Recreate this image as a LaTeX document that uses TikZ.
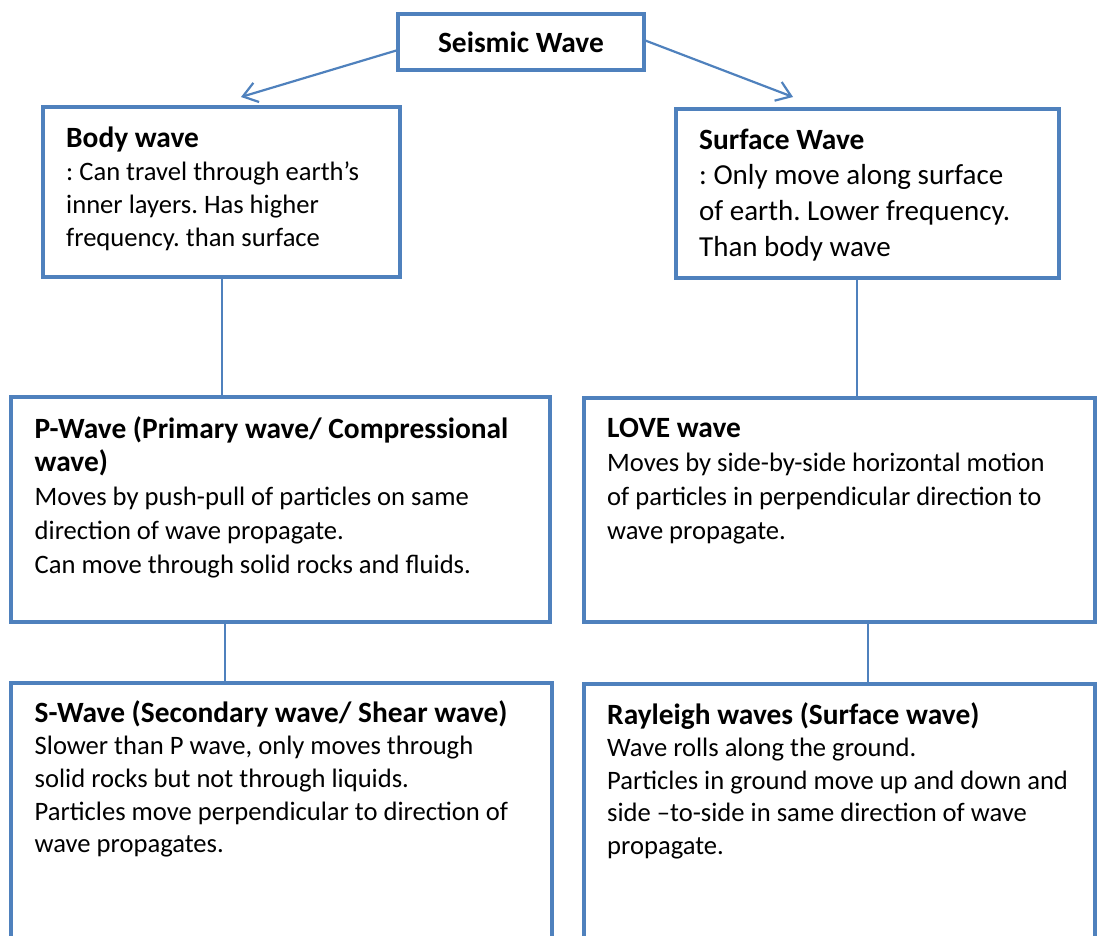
\documentclass[tikz,border=0pt]{standalone}
\usepackage{fontspec}
\setmainfont{Carlito}
\usetikzlibrary{arrows.meta,calc}
\definecolor{wblue}{HTML}{4F81BD}
\frenchspacing
\newcommand{\wtext}[3]{\parbox[t]{700pt}{\fontsize{#1}{#2}\selectfont\raggedright\frenchspacing #3}}
\newcommand{\hd}[1]{{\fontsize{29.4}{30}\selectfont\bfseries #1}}
\begin{document}
\begin{tikzpicture}[x=1pt,y=-1pt,
  wbox/.style={draw=wblue, line width=4pt, fill=white, rectangle, inner sep=0pt, outer sep=0pt, anchor=north west},
  conn/.style={draw=wblue, line width=2pt},
  arr/.style={draw=wblue, line width=2.2pt, -{Straight Barb[length=14pt,width=20pt,line width=2.2pt]}},
  wtxt/.style={anchor=base west, inner sep=0pt, text=black}]
\useasboundingbox (0,0) rectangle (1098,935);
\clip (0,0) rectangle (1098,935);
% boxes
\node[wbox, minimum width=246pt, minimum height=56pt, anchor=center] (seismic) at (521,42) {\raisebox{-3pt}{\hd{Seismic Wave}}};
\node[wbox, minimum width=357pt, minimum height=170pt] (body) at (43,107) {};
\node[wbox, minimum width=383pt, minimum height=169pt] (surf) at (676,109) {};
\node[wbox, minimum width=539pt, minimum height=225pt] (pw) at (11,397) {};
\node[wbox, minimum width=511pt, minimum height=224pt] (love) at (584,398) {};
\node[wbox, minimum width=541pt, minimum height=280pt] (sw) at (11,683) {};
\node[wbox, minimum width=511pt, minimum height=280pt] (ray) at (584,684) {};
% connectors
\coordinate (lt) at (241,97);
\coordinate (rt) at (793,97);
\draw[arr] ($(seismic.west)+(0,8)$) -- (lt);
\draw[arr] ($(seismic.east)+(0,-2)$) -- (rt);
\draw[conn] (body.south) -- (body.south |- pw.north);
\coordinate (c2) at ($(surf.south)+(-10.5,0)$);
\draw[conn] (c2) -- (c2 |- love.north);
\coordinate (c3) at ($(pw.south)+(-56,0)$);
\draw[conn] (c3) -- (c3 |- sw.north);
\coordinate (c4) at ($(love.south)+(28,0)$);
\draw[conn] (c4) -- (c4 |- ray.north);
% texts
\node[wtxt] (tbody) at (66,147) {\wtext{26.6}{33.3}{\hd{Body wave}\\
: Can travel through earth’s\\
inner layers. Has higher\\
frequency. than surface}};
\node[wtxt] (tsurf) at (699,149) {\wtext{29}{35.7}{\hd{Surface Wave}\\
: Only move along surface\\
of earth. Lower frequency.\\
Than body wave}};
\node[wtxt] (tpw) at (34.5,438) {\wtext{26.6}{33.8}{\hd{P-Wave (Primary wave/ Compressional}\\
\hd{wave)}\\
Moves by push-pull of particles on same\\
direction of wave propagate.\\
Can move through solid rocks and fluids.}};
\node[wtxt] (tlove) at (607,437) {\wtext{26.6}{34}{\hd{LOVE wave}\\
Moves by side-by-side horizontal motion\\
of particles in perpendicular direction to\\
wave propagate.}};
\node[wtxt] (tsw) at (34.5,722) {\wtext{26.6}{32.7}{\hd{S-Wave (Secondary wave/ Shear wave)}\\
Slower than P wave, only moves through\\
solid rocks but not through liquids.\\
Particles move perpendicular to direction of\\
wave propagates.}};
\node[wtxt] (tray) at (607,724) {\wtext{26.6}{32.5}{\hd{Rayleigh waves (Surface wave)}\\
Wave rolls along the ground.\\
Particles in ground move up and down and\\
side –to-side in same direction of wave\\
propagate.}};
\end{tikzpicture}
\end{document}
